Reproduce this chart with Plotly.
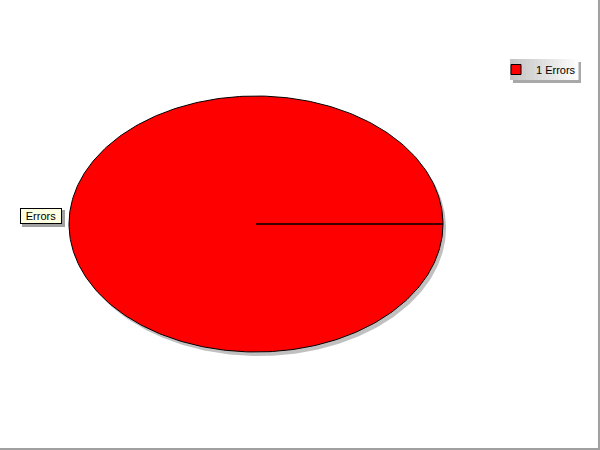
import numpy as np
import plotly.graph_objects as go

# ---- data ----
categories = ["Errors"]
values = [1]
colors = ["#ff0000"]

# ---- layout constants (pixel space) ----
W, H = 600, 450
CX, CY = 256, 224          # pie centre
RX, RY = 187, 128          # elliptical radii
SHADOW_DX, SHADOW_DY = 3, 4

fig = go.Figure()

# shadow ellipse
t = np.linspace(0, 2 * np.pi, 361)
fig.add_trace(go.Scatter(
    x=CX + SHADOW_DX + RX * np.cos(t), y=CY + SHADOW_DY + RY * np.sin(t),
    mode="lines", fill="toself", fillcolor="#c0c0c0",
    line=dict(width=0, color="#c0c0c0"), hoverinfo="skip", showlegend=False))

# slices computed from values
total = sum(values)
start = 0.0
for cat, val, col in zip(categories, values, colors):
    frac = val / total
    ang = np.linspace(start, start + frac * 2 * np.pi, max(3, int(360 * frac) + 1))
    xs = [CX] + list(CX + RX * np.cos(ang)) + [CX]
    ys = [CY] + list(CY - RY * np.sin(ang)) + [CY]
    fig.add_trace(go.Scatter(
        x=xs, y=ys, mode="lines", fill="toself", fillcolor=col,
        line=dict(color="black", width=1), name=cat, hoverinfo="name",
        showlegend=False))
    # legend entry
    fig.add_trace(go.Scatter(
        x=[None], y=[None], mode="markers", name=f"{val} {cat}",
        marker=dict(symbol="square", size=10, color=col,
                    line=dict(color="black", width=1)),
        showlegend=True))
    start += frac * 2 * np.pi

shapes = []
# legend shadow
shapes.append(dict(type="rect", xref="x", yref="y", x0=513, x1=581, y0=62, y1=83,
                   fillcolor="#a8a8a8", line=dict(width=0), layer="below"))
# legend gradient box
n = 17
x0, x1 = 510, 578
for i in range(n):
    c = int(0xc4 + (0xfc - 0xc4) * i / (n - 1))
    shapes.append(dict(type="rect", xref="x", yref="y",
                       x0=x0 + (x1 - x0) * i / n, x1=x0 + (x1 - x0) * (i + 1) / n + 0.5,
                       y0=59, y1=80, fillcolor=f"rgb({c},{c},{c})",
                       line=dict(width=0), layer="below"))
# label shadow
shapes.append(dict(type="rect", xref="x", yref="y", x0=22, x1=65, y0=210, y1=227,
                   fillcolor="#a0a0a0", line=dict(width=0), layer="below"))
# outer frame (right & bottom)
shapes.append(dict(type="line", xref="paper", yref="paper", x0=0.9983, x1=0.9983, y0=0, y1=1,
                   line=dict(color="#a0a0a0", width=2)))
shapes.append(dict(type="line", xref="paper", yref="paper", x0=0, x1=1, y0=0.0022, y1=0.0022,
                   line=dict(color="#a0a0a0", width=2)))

annotations = [dict(
    x=41, y=216, xref="x", yref="y", text=categories[0], showarrow=False,
    xanchor="center", yanchor="middle", width=40, height=14,
    bgcolor="#ffffe1", bordercolor="black", borderwidth=1, borderpad=0,
    font=dict(family="Arial, Liberation Sans", size=11, color="black"))]

fig.update_layout(
    width=W, height=H, margin=dict(l=0, r=0, t=0, b=0),
    paper_bgcolor="white", plot_bgcolor="white",
    xaxis=dict(range=[0, W], visible=False, fixedrange=True),
    yaxis=dict(range=[H, 0], visible=False, fixedrange=True),
    shapes=shapes, annotations=annotations,
    showlegend=True,
    legend=dict(x=496 / W, y=1 - 69.5 / H, xanchor="left", yanchor="middle",
                bgcolor="rgba(0,0,0,0)", borderwidth=0, itemwidth=30,
                font=dict(family="Arial, Liberation Sans", size=11, color="black")),
)

fig.write_html(
    "out.html",
    config={"displayModeBar": False},
    post_script="document.body.style.margin='0';document.body.style.overflow='hidden';",
)
